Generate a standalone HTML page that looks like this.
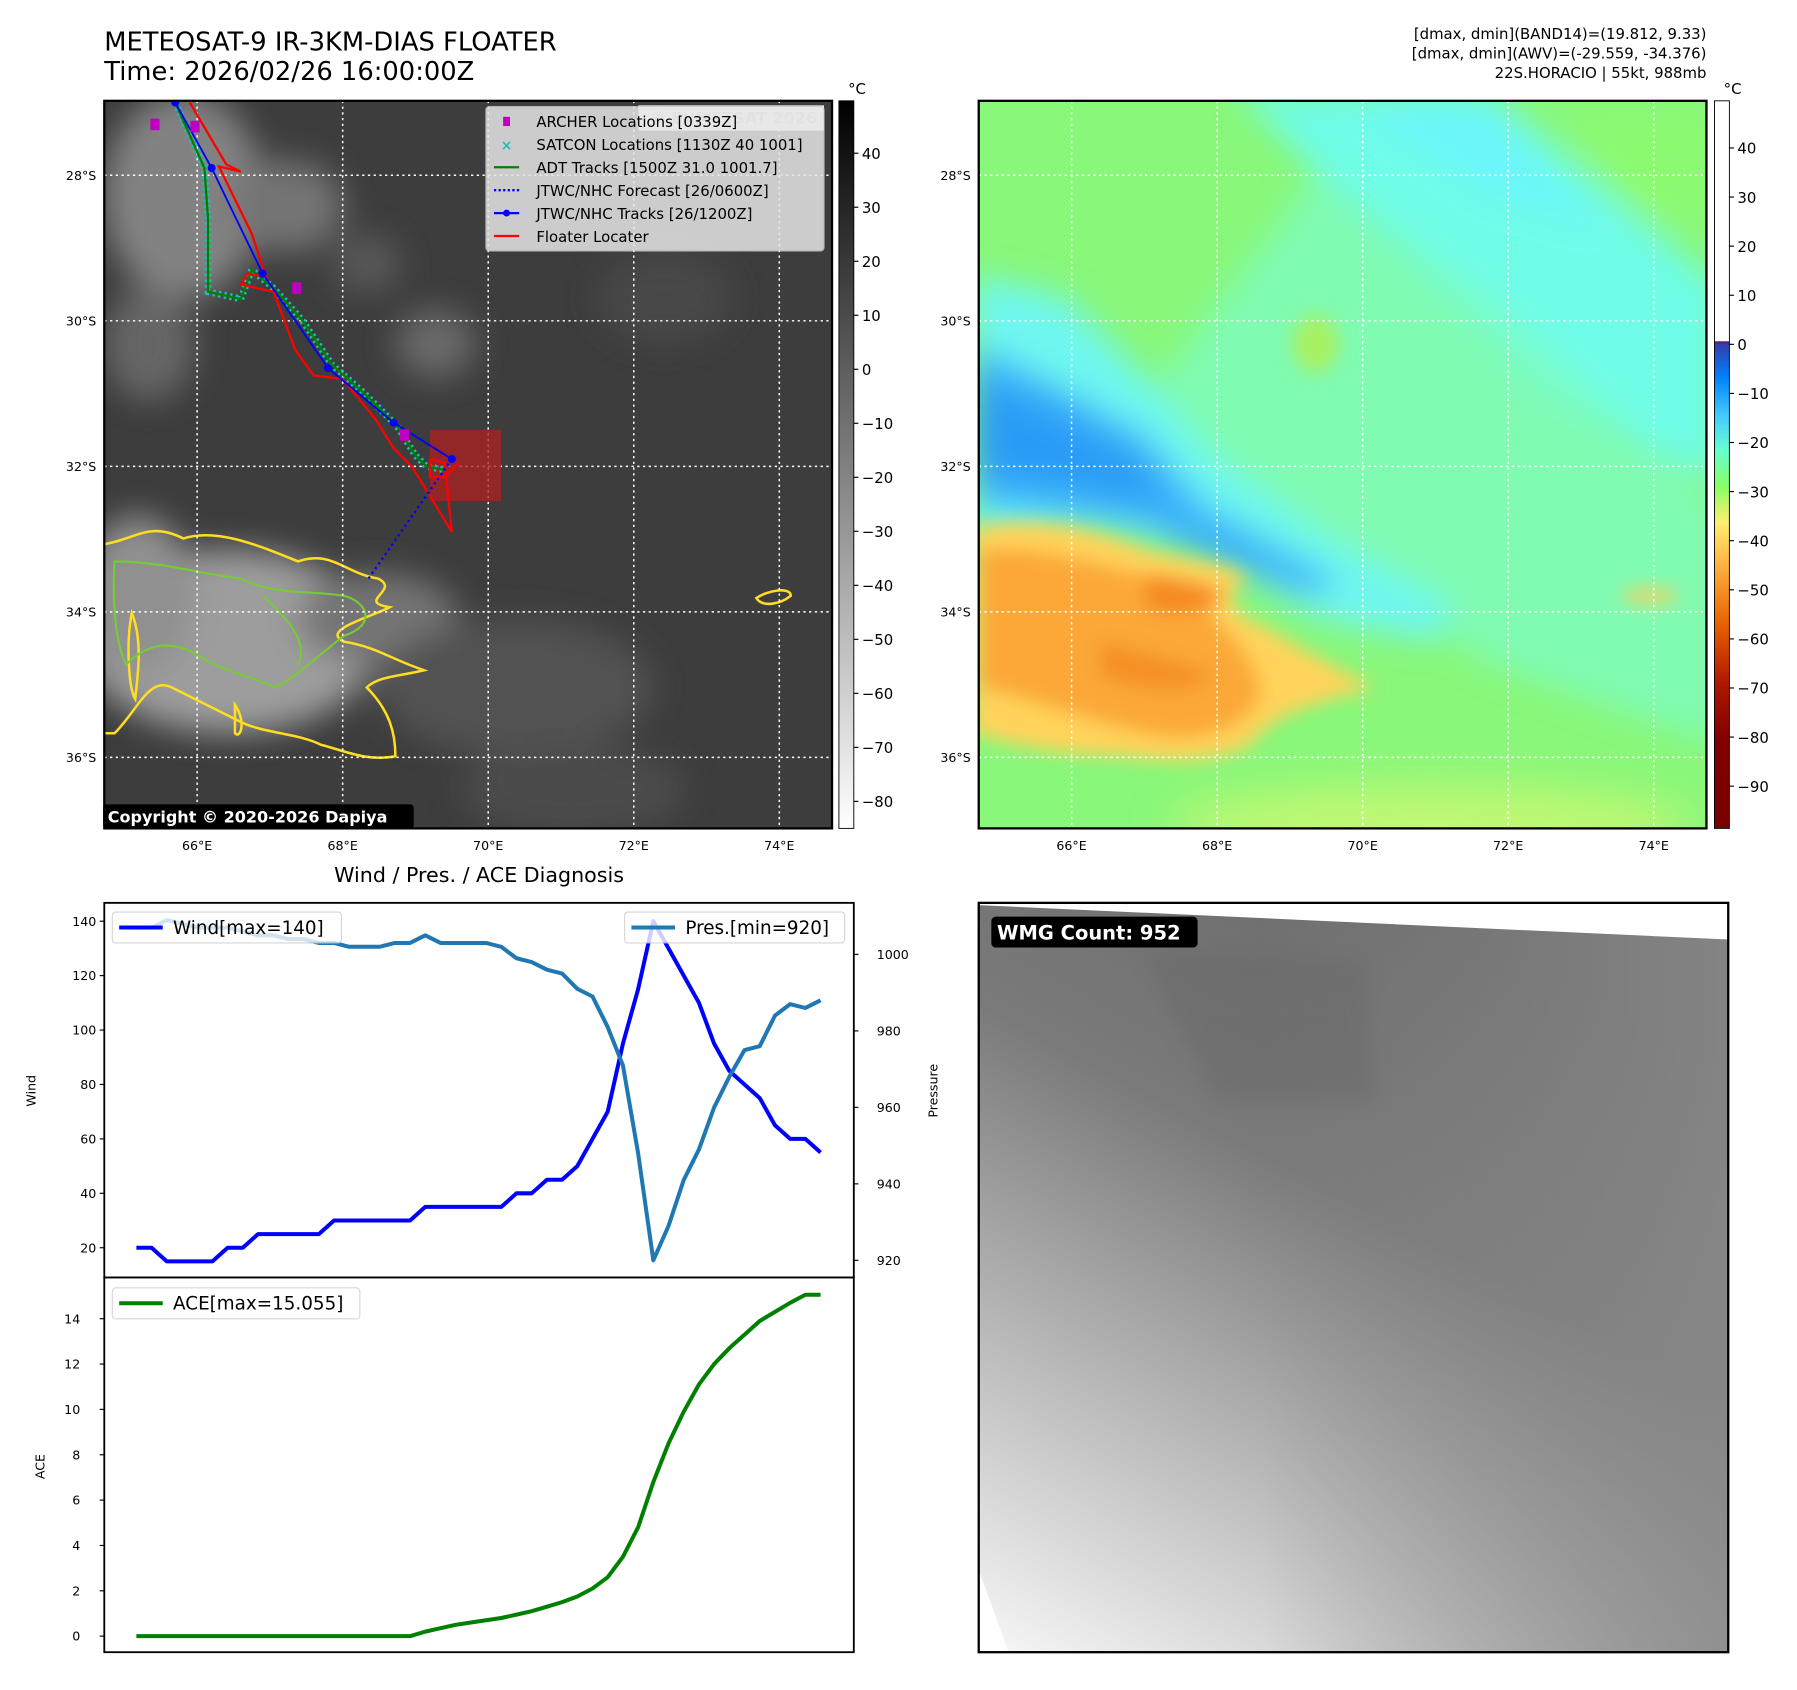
<!DOCTYPE html>
<html><head><meta charset="utf-8"><style>
html,body{margin:0;padding:0;background:#fff}
svg{display:block;font-family:"DejaVu Sans","Liberation Sans",sans-serif}
</style></head><body>
<svg id="root" width="1797" height="1690" viewBox="0 0 1568 1475" preserveAspectRatio="none" xmlns="http://www.w3.org/2000/svg">
<defs>
<filter id="blur8" x="-20%" y="-20%" width="140%" height="140%"><feGaussianBlur stdDeviation="8"/></filter>
<filter id="blur14" x="-30%" y="-30%" width="160%" height="160%"><feGaussianBlur stdDeviation="14"/></filter>
<filter id="blur20" x="-50%" y="-50%" width="200%" height="200%"><feGaussianBlur stdDeviation="20"/></filter>
<clipPath id="clip1"><rect x="91" y="88" width="635" height="635"/></clipPath>
<clipPath id="clip2"><rect x="854" y="88" width="635" height="635"/></clipPath>
<clipPath id="clip3"><rect x="854" y="788" width="654" height="654"/></clipPath>
<linearGradient id="cb1" x1="0" y1="1" x2="0" y2="0"><stop offset="0" stop-color="#fff"/><stop offset="1" stop-color="#000"/></linearGradient>
<linearGradient id="cb2" x1="0" y1="1" x2="0" y2="0">
<stop offset="0" stop-color="#7a0000"/><stop offset="0.12" stop-color="#800000"/><stop offset="0.2" stop-color="#b01800"/>
<stop offset="0.28" stop-color="#e86000"/><stop offset="0.36" stop-color="#ffb040"/><stop offset="0.42" stop-color="#ffee70"/>
<stop offset="0.47" stop-color="#88ff66"/><stop offset="0.52" stop-color="#66ffd0"/><stop offset="0.57" stop-color="#40c8ff"/>
<stop offset="0.62" stop-color="#0080ff"/><stop offset="0.665" stop-color="#3040b0"/><stop offset="0.669" stop-color="#601870"/>
<stop offset="0.67" stop-color="#fff"/><stop offset="1" stop-color="#fff"/></linearGradient>
<linearGradient id="wmg" x1="1250" y1="790" x2="900" y2="1450" gradientUnits="userSpaceOnUse">
<stop offset="0" stop-color="#6c6c6c"/><stop offset="0.35" stop-color="#7a7a7a"/><stop offset="0.55" stop-color="#a0a0a0"/><stop offset="0.8" stop-color="#cfcfcf"/><stop offset="1" stop-color="#f4f4f4"/></linearGradient>
<linearGradient id="wmg2" x1="1100" y1="0" x2="1508" y2="0" gradientUnits="userSpaceOnUse">
<stop offset="0" stop-color="#888" stop-opacity="0"/><stop offset="1" stop-color="#8a8a8a" stop-opacity="0.8"/></linearGradient>
</defs>

<text x="91" y="44" font-size="22.5">METEOSAT-9 IR-3KM-DIAS FLOATER</text>
<text x="91" y="70" font-size="22.5">Time: 2026/02/26 16:00:00Z</text>
<g font-size="13" text-anchor="end">
<text x="1489" y="34">[dmax, dmin](BAND14)=(19.812, 9.33)</text>
<text x="1489" y="51">[dmax, dmin](AWV)=(-29.559, -34.376)</text>
<text x="1489" y="68">22S.HORACIO | 55kt, 988mb</text>
</g>

<g clip-path="url(#clip1)">
<rect x="91" y="88" width="635" height="635" fill="#3d3d3d"/>
<g filter="url(#blur14)" opacity="0.9">
<ellipse cx="160" cy="170" rx="70" ry="90" fill="#8a8a8a"/>
<ellipse cx="250" cy="180" rx="50" ry="40" fill="#7a7a7a"/>
<ellipse cx="130" cy="300" rx="40" ry="50" fill="#6a6a6a"/>
<ellipse cx="380" cy="300" rx="35" ry="30" fill="#6e6e6e"/>
<ellipse cx="320" cy="230" rx="30" ry="25" fill="#5c5c5c"/>
<ellipse cx="580" cy="260" rx="60" ry="40" fill="#4a4a4a"/>
<ellipse cx="200" cy="560" rx="130" ry="80" fill="#a8a8a8"/>
<ellipse cx="120" cy="520" rx="50" ry="70" fill="#9a9a9a"/>
<ellipse cx="330" cy="540" rx="70" ry="40" fill="#7a7a7a"/>
<ellipse cx="450" cy="600" rx="120" ry="60" fill="#555"/>
<ellipse cx="500" cy="690" rx="100" ry="40" fill="#4e4e4e"/>
</g>
<g stroke="#ffdd22" fill="none" stroke-width="2.2">
<path d="M91,475 C120,470 130,455 160,470 C190,460 230,478 260,490 C290,480 300,500 330,505 C350,515 310,525 340,530 C320,540 280,550 300,560 C330,565 340,575 370,585 C350,590 330,590 320,600 C340,620 345,640 345,660 C320,665 300,655 280,650 C260,640 230,640 210,630 C190,620 170,610 150,600 C130,590 120,620 100,640 L91,640"/>
<path d="M660,522 C670,515 690,512 690,520 C680,528 665,530 660,522 Z"/>
<path d="M115,535 C125,560 120,590 118,610 C112,600 110,560 115,535 Z"/>
<path d="M205,615 C215,630 210,645 205,640 Z"/>
</g>
<g stroke="#77cc33" fill="none" stroke-width="1.8">
<path d="M100,490 C140,490 170,500 210,505 C240,520 270,515 300,520 C320,525 330,545 300,555 C280,570 260,590 240,600 C220,590 190,585 170,570 C150,560 130,560 110,580 C100,560 98,520 100,490 Z"/>
<path d="M230,520 C250,540 270,560 260,580"/>
</g>
</g>
<g id="grid1" stroke="#fff" stroke-width="1.3" stroke-dasharray="2,3"></g>
<g id="tracks" clip-path="url(#clip1)"></g>
<rect x="91" y="88" width="635" height="635" fill="none" stroke="#000" stroke-width="2"/>
<rect x="557" y="92" width="162" height="22" fill="#fff" opacity="0.95"/>
<text x="640" y="108" font-size="14" font-weight="bold" fill="#ccc" text-anchor="middle">© EUMETSAT 2026</text>
<g>
<rect x="424" y="93" width="295" height="126" rx="3" fill="#e6e6e6" opacity="0.85" stroke="#ccc"/>
<g font-size="13" fill="#000">
<rect x="439" y="102" width="6" height="8" fill="#c000c0"/><text x="468" y="111">ARCHER Locations [0339Z]</text>
<text x="442" y="131" fill="#19c0c0" font-size="12" text-anchor="middle" font-weight="bold">×</text><text x="468" y="131">SATCON Locations [1130Z 40 1001]</text>
<line x1="431" y1="146" x2="453" y2="146" stroke="#008000" stroke-width="2"/><text x="468" y="151">ADT Tracks [1500Z 31.0 1001.7]</text>
<line x1="431" y1="166" x2="453" y2="166" stroke="#0000ff" stroke-width="2" stroke-dasharray="2,2"/><text x="468" y="171">JTWC/NHC Forecast [26/0600Z]</text>
<line x1="431" y1="186" x2="453" y2="186" stroke="#0000ff" stroke-width="2"/><circle cx="442" cy="186" r="3" fill="#0000ff"/><text x="468" y="191">JTWC/NHC Tracks [26/1200Z]</text>
<line x1="431" y1="206" x2="453" y2="206" stroke="#ff0000" stroke-width="2"/><text x="468" y="211">Floater Locater</text>
</g></g>
<rect x="90" y="702" width="271" height="21" rx="3" fill="#000"/>
<text x="94" y="718" font-size="14" font-weight="bold" fill="#fff">Copyright © 2020-2026 Dapiya</text>
<rect x="732" y="88" width="13" height="635" fill="url(#cb1)" stroke="#000" stroke-width="0.8"/>
<text x="740" y="82" font-size="13">°C</text>
<g id="cb1ticks" font-size="13"></g>

<g clip-path="url(#clip2)">
<rect x="854" y="88" width="635" height="635" fill="#88f77a"/>
<g filter="url(#blur14)">
<path d="M1080,80 L1300,80 L1500,250 L1500,420 L1350,350 L1200,200 Z" fill="#70fde8"/>
<path d="M1150,150 L1300,260 L1500,440 L1500,650 L1300,580 L1150,480 L1000,350 Z" fill="#7dfcc0" opacity="0.8"/>
<path d="M850,240 L930,260 L1000,330 L1060,400 L1160,470 L1270,530 L1250,560 L1150,540 L1050,480 L950,460 L850,470 Z" fill="#6ef7f0"/>
<path d="M850,300 L930,340 L1000,380 L1050,440 L1120,480 L1170,510 L1140,520 L1060,490 L1000,460 L940,450 L850,440 Z" fill="#3ab2fa"/>
<path d="M850,330 L920,360 L990,400 L1020,440 L960,430 L900,420 L850,410 Z" fill="#2c9bf5"/>
<path d="M1180,90 L1300,90 L1400,200 L1300,170 Z" fill="#6cf6fa"/>
<path d="M1370,100 L1490,100 L1490,200 L1420,180 Z" fill="#8cfa70"/>
</g>
<g filter="url(#blur8)">
<path d="M850,460 C900,450 950,460 1000,480 C1040,490 1070,490 1090,505 C1060,520 1080,540 1110,550 C1140,570 1180,590 1200,600 C1160,610 1120,620 1100,640 C1090,660 1040,670 980,660 C930,660 880,650 850,640 Z" fill="#ffd35a"/>
<path d="M855,480 C900,475 950,490 990,500 C1030,510 1060,520 1060,540 C1080,560 1100,580 1100,610 C1080,640 1040,650 1000,640 C950,630 900,610 855,600 Z" fill="#fba838"/>
<path d="M1000,500 C1030,505 1060,510 1070,520 C1050,535 1020,540 1000,530 Z" fill="#f58a20"/>
<path d="M960,560 C1000,570 1040,580 1060,590 C1030,610 990,600 960,590 Z" fill="#f59028"/>
<ellipse cx="1440" cy="520" rx="25" ry="6" fill="#ffd05a"/>
<ellipse cx="1148" cy="300" rx="20" ry="25" fill="#a8f060"/>
</g>
<ellipse cx="1250" cy="720" rx="230" ry="35" fill="#e8fa70" opacity="0.6" filter="url(#blur20)"/>
</g>
<g id="grid2" stroke="#fff" stroke-width="1.3" stroke-dasharray="2,3"></g>
<rect x="854" y="88" width="635" height="635" fill="none" stroke="#000" stroke-width="2"/>
<rect x="1496" y="88" width="13" height="635" fill="url(#cb2)" stroke="#000" stroke-width="0.8"/>
<text x="1504" y="82" font-size="13">°C</text>
<g id="cb2ticks" font-size="13"></g>
<g id="maplabels" font-size="11"></g>

<text x="418" y="770" font-size="18" text-anchor="middle">Wind / Pres. / ACE Diagnosis</text>
<g id="chart"></g>

<g clip-path="url(#clip3)">
<rect x="854" y="788" width="654" height="654" fill="url(#wmg)"/>
<rect x="854" y="788" width="654" height="654" fill="url(#wmg2)"/>
<path d="M1000,830 L1190,840 L1200,960 L1060,960 L1030,900 Z" fill="#666" opacity="0.4" filter="url(#blur8)"/>
<path d="M854,788 L1508,788 L1508,820 L854,790 Z" fill="#fff"/>
<path d="M854,1370 L880,1442 L854,1442 Z" fill="#fff"/>
</g>
<rect x="854" y="788" width="654" height="654" fill="none" stroke="#000" stroke-width="2"/>
<rect x="865" y="800" width="180" height="27" rx="4" fill="#000"/>
<text x="870" y="820" font-size="17" font-weight="bold" fill="#fff">WMG Count: 952</text>
</svg>
<script>
const windValues = [20,20,15,15,15,15,20,20,25,25,25,25,25,30,30,30,30,30,30,35,35,35,35,35,35,40,40,45,45,50,60,70,95,115,140,130,120,110,95,85,80,75,65,60,60,55];
const presValues = [1007,1007,1009,1008,1007,1007,1007,1006,1005,1005,1004,1004,1003,1003,1002,1002,1002,1003,1003,1005,1003,1003,1003,1003,1002,999,998,996,995,991,989,981,971,948,920,929,941,949,960,968,975,976,984,987,986,988];
const aceValues = [0,0,0,0,0,0,0,0,0,0,0,0,0,0,0,0,0,0,0,0.2,0.35,0.5,0.6,0.7,0.8,0.95,1.1,1.3,1.5,1.75,2.1,2.6,3.5,4.8,6.8,8.5,9.9,11.1,12.0,12.7,13.3,13.9,14.3,14.7,15.055,15.055];
const windTicks = [20,40,60,80,100,120,140];
const presTicks = [920,940,960,980,1000];
const aceTicks = [0,2,4,6,8,10,12,14];
const ir_cbTicks = [40,30,20,10,0,-10,-20,-30,-40,-50,-60,-70,-80];
const awv_cbTicks = [40,30,20,10,0,-10,-20,-30,-40,-50,-60,-70,-80,-90];
const lonTicks = [66,68,70,72,74];
const latTicks = [28,30,32,34,36];
const jtwcLon = [65.7,66.2,66.9,67.8,68.7,69.5];
const jtwcLat = [27.0,27.9,29.35,30.65,31.4,31.9];
const fcstLon = [69.5,68.35];
const fcstLat = [31.9,33.55];
const floaterLon = [65.9,66.4,66.6,66.3,66.75,66.95,66.7,66.6,67.05,67.35,67.6,68.0,68.45,68.7,68.95,69.5,69.4,69.2,69.2,69.4,69.6];
const floaterLat = [27.0,27.85,27.95,27.88,28.8,29.4,29.35,29.5,29.6,30.4,30.75,30.8,31.35,31.75,32.0,32.9,31.95,31.9,32.15,32.15,31.95];
const adtLon = [65.7,66.1,66.15,66.15,66.6,66.75,67.05,67.45,67.85,68.3,68.75,69.0,69.15,69.4];
const adtLat = [27.0,27.9,28.6,29.6,29.7,29.3,29.55,30.0,30.6,31.0,31.45,31.85,32.0,32.05];
const archerLon = [65.42,65.97,67.37,68.85];
const archerLat = [27.3,27.33,29.55,31.57];

const NS='http://www.w3.org/2000/svg';
function mk(tag,attrs,parent,txt){const e=document.createElementNS(NS,tag);for(const k in attrs)e.setAttribute(k,attrs[k]);if(txt!==undefined)e.textContent=txt;parent.appendChild(e);return e;}

const pxDeg=63.5;
function mx(lon,off){return 172+(lon-66)*pxDeg+(off||0);}
function my(lat){return 153+(lat-28)*pxDeg;}

[['grid1',0],['grid2',763]].forEach(([id,off])=>{
  const g=document.getElementById(id);
  lonTicks.forEach(l=>{const e=mk('line',{x1:mx(l,off),x2:mx(l,off),y1:88,y2:723},g);
    
    });
  latTicks.forEach(l=>{const e=mk('line',{x1:91+off,x2:726+off,y1:my(l),y2:my(l)},g);
    
    });
});
const ml=document.getElementById('maplabels');
[0,763].forEach(off=>{
  lonTicks.forEach(l=>{const t=mk('text',{x:mx(l,off),y:742,'text-anchor':'middle'},ml,l+'°E');
    
    });
  latTicks.forEach(l=>{const t=mk('text',{x:84+off,y:my(l)+4,'text-anchor':'end'},ml,l+'°S');
    
    });
});

function cbTicks(id,ticks,x,vTop,vBot){
  const g=document.getElementById(id);
  ticks.forEach(v=>{const y=88+(vTop-v)/(vTop-vBot)*635;
    mk('line',{x1:x,x2:x+4,y1:y,y2:y,stroke:'#000'},g);
    const t=mk('text',{x:x+7,y:y+5},g,v<0?'\u2212'+(-v):String(v));
    
    });
}
cbTicks('cb1ticks',ir_cbTicks,745,49.7,-85);
cbTicks('cb2ticks',awv_cbTicks,1509,49.6,-98.6);

const tr=document.getElementById('tracks');
function poly(lons,lats,attrs,name){const pts=lons.map((l,i)=>mx(l)+','+my(lats[i])).join(' ');
  const e=mk('polyline',Object.assign({points:pts,fill:'none'},attrs),tr);
  
  return e;}
mk('rect',{x:mx(69.2),y:my(31.5),width:62,height:62,fill:'#b02020',opacity:'0.75'},tr);
poly(adtLon,adtLat,{stroke:'#19c0c0','stroke-width':6,'stroke-dasharray':'2,3'},'satcon-locations');
poly(adtLon,adtLat,{stroke:'#008000','stroke-width':2},'adt-track');
poly(floaterLon,floaterLat,{stroke:'#ff0000','stroke-width':2},'floater-locater');
poly(jtwcLon,jtwcLat,{stroke:'#0000ff','stroke-width':1.6},'jtwc-track');
poly(fcstLon,fcstLat,{stroke:'#0000ff','stroke-width':2,'stroke-dasharray':'2,3'},'jtwc-forecast');
jtwcLon.forEach((l,i)=>{const c=mk('circle',{cx:mx(l),cy:my(jtwcLat[i]),r:3.5,fill:'#0000ff'},tr);
  
  });
archerLon.forEach((l,i)=>{const r=mk('rect',{x:mx(l)-4,y:my(archerLat[i])-5,width:8,height:10,fill:'#c000c0'},tr);
  
  });

const ch=document.getElementById('chart');
const X0=119,X1=716;
function cx(i,n){return X0+i*(X1-X0)/(n-1);}
function yWind(v){return 1089-(v-20)*2.375;}
function yPres(v){return 1100-(v-920)*3.3375;}
function yAce(v){return 1428-v*19.79;}
mk('rect',{x:91,y:788,width:654,height:327,fill:'#fff',stroke:'#000','stroke-width':1.6},ch);
mk('rect',{x:91,y:1115,width:654,height:327,fill:'#fff',stroke:'#000','stroke-width':1.6},ch);
const tg=mk('g',{'font-size':11},ch);
windTicks.forEach(v=>{const y=yWind(v);mk('line',{x1:87,x2:91,y1:y,y2:y,stroke:'#000'},tg);const t=mk('text',{x:84,y:y+4,'text-anchor':'end'},tg,v);
  
  });
presTicks.forEach(v=>{const y=yPres(v);mk('line',{x1:745,x2:749,y1:y,y2:y,stroke:'#000'},tg);const t=mk('text',{x:765,y:y+4},tg,v);
  
  });
aceTicks.forEach(v=>{const y=yAce(v);mk('line',{x1:87,x2:91,y1:y,y2:y,stroke:'#000'},tg);const t=mk('text',{x:70,y:y+4,'text-anchor':'end'},tg,v);
  
  });
const l1=mk('text',{x:31,y:952,'font-size':11,'text-anchor':'middle',transform:'rotate(-90 31 952)'},ch,'Wind');


const l2=mk('text',{x:818,y:952,'font-size':11,'text-anchor':'middle',transform:'rotate(-90 818 952)'},ch,'Pressure');


const l3=mk('text',{x:39,y:1280,'font-size':11,'text-anchor':'middle',transform:'rotate(-90 39 1280)'},ch,'ACE');


function line(vals,yf,color,name){const n=vals.length;const pts=vals.map((v,i)=>cx(i,n)+','+yf(v)).join(' ');
  const e=mk('polyline',{points:pts,fill:'none',stroke:color,'stroke-width':3.5,'stroke-linejoin':'round'},ch);
  
  }
line(windValues,yWind,'#0000ff','wind-line');
line(presValues,yPres,'#1f77b4','pressure-line');
line(aceValues,yAce,'#008000','ace-line');
function legend(x,y,w,color,label,name){const g=mk('g',{},ch);
  
  
  mk('rect',{x:x,y:y,width:w,height:27,rx:3,fill:'#fff',opacity:'0.8',stroke:'#ccc'},g);
  mk('line',{x1:x+6,x2:x+44,y1:y+13.5,y2:y+13.5,stroke:color,'stroke-width':3.5},g);
  mk('text',{x:x+53,y:y+19,'font-size':16},g,label);}
legend(98,796,200,'#0000ff','Wind[max='+Math.max(...windValues)+']','wind-legend');
legend(545,796,192,'#1f77b4','Pres.[min='+Math.min(...presValues)+']','pressure-legend');
legend(98,1124,216,'#008000','ACE[max='+Math.max(...aceValues)+']','ace-legend');
</script>
</body></html>
